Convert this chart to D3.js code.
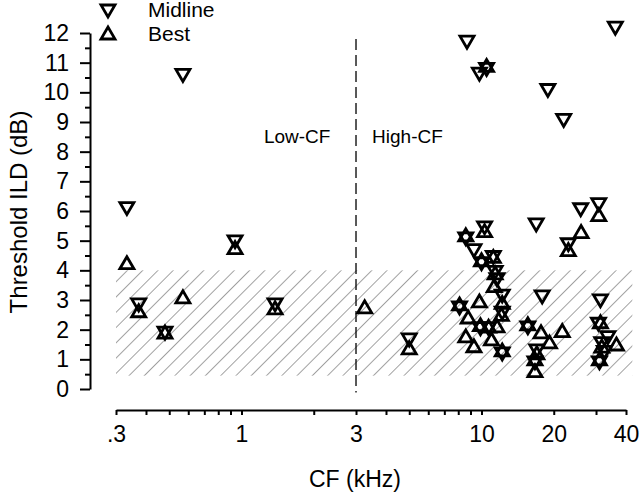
<!DOCTYPE html>
<html>
<head>
<meta charset="utf-8">
<script src="https://cdn.jsdelivr.net/npm/d3@7"></script>
<style>
  html, body { margin: 0; padding: 0; background: #fff; }
  svg { display: block; font-family: "Liberation Sans", Arial, Helvetica, sans-serif; }
</style>
</head>
<body>
<svg id="chart" width="640" height="496"></svg>
<script>
// ---- data ----
const midlineCF  = [0.333, 0.373, 0.48, 0.57, 0.94, 1.38, 5.0, 8.7, 10.5, 9.8, 18.9, 22.0, 36.1, 30.8, 25.9, 16.9, 10.3, 8.6, 23.0, 9.3, 10.0, 11.2, 11.4, 11.6, 12.2, 12.2, 8.1, 9.9, 10.7, 12.2, 17.9, 31.3, 15.6, 17.0, 16.7, 30.7, 33.6, 31.7, 32.5, 31.0];
const midlineILD = [6.15, 2.9, 1.95, 10.64, 5.03, 2.9, 1.72, 11.76, 10.84, 10.68, 10.13, 9.12, 12.23, 6.28, 6.11, 5.6, 5.5, 5.13, 4.93, 4.73, 4.29, 4.5, 4.0, 3.75, 3.2, 2.62, 2.8, 2.1, 2.1, 1.25, 3.17, 3.04, 2.13, 1.35, 0.95, 2.25, 1.8, 1.6, 1.3, 0.95];
const bestCF  = [0.333, 0.373, 0.48, 0.57, 0.94, 1.38, 3.26, 5.0, 10.5, 30.8, 26.0, 10.3, 8.6, 23.0, 10.0, 11.2, 11.4, 11.3, 12.2, 12.1, 9.8, 8.1, 8.8, 9.9, 10.7, 11.6, 8.6, 9.3, 11.0, 12.2, 15.6, 17.7, 19.2, 21.7, 17.0, 16.7, 16.7, 31.3, 36.5, 31.7, 31.0];
const bestILD = [4.19, 2.57, 1.85, 3.04, 4.7, 2.67, 2.7, 1.32, 10.84, 5.81, 5.24, 5.27, 5.13, 4.63, 4.29, 4.4, 3.85, 3.42, 2.85, 2.45, 2.9, 2.8, 2.36, 2.1, 2.05, 2.06, 1.72, 1.39, 1.62, 1.25, 2.13, 1.86, 1.52, 1.9, 1.15, 0.95, 0.55, 2.2, 1.45, 1.38, 0.95];

const xTickValues = [0.3,0.4,0.5,0.6,0.7,0.8,0.9,1,2,3,4,5,6,7,8,9,10,20,30,40];
const xTickLabels = {0.3: ".3", 1: "1", 3: "3", 10: "10", 20: "20", 40: "40"};
const yTickValues = [0,1,2,3,4,5,6,7,8,9,10,11,12];
const yMinorTicks = [0.5,1.5,2.5,3.5,4.5,5.5,6.5,7.5,8.5,9.5,10.5,11.5];
const hatchCF  = [0.3, 42.5];
const hatchILD = [0.45, 4.0];
const dividerCF = 3;
const regionLabels = [{text: "Low-CF", cf: 1.24}, {text: "High-CF", cf: 3.5}];
const legendItems = [{name: "Midline", dir: "down"}, {name: "Best", dir: "up"}];

// ---- layout ----
const svg = d3.select("#chart");
const x = d3.scaleLog().domain([0.3, 40]).range([116, 626]);
const y = d3.scaleLinear().domain([0, 12]).range([389, 33]);
const xAxisY = 410;
const yAxisX = 90;
const FONT = "Liberation Sans, Arial, Helvetica, sans-serif";

// hatch pattern
const defs = svg.append("defs");
const pat = defs.append("pattern")
  .attr("id", "hatch").attr("patternUnits", "userSpaceOnUse")
  .attr("width", 10.8).attr("height", 10)
  .attr("patternTransform", "rotate(45)");
pat.append("line").attr("x1", 0).attr("y1", -1).attr("x2", 0).attr("y2", 11)
  .attr("stroke", "#555").attr("stroke-width", 1.1);

svg.append("rect")
  .attr("x", x(hatchCF[0])).attr("y", y(hatchILD[1]))
  .attr("width", x(hatchCF[1]) - x(hatchCF[0]))
  .attr("height", y(hatchILD[0]) - y(hatchILD[1]))
  .attr("fill", "url(#hatch)");

// divider dashed line
svg.append("line")
  .attr("x1", x(dividerCF)).attr("x2", x(dividerCF))
  .attr("y1", y(11.8)).attr("y2", y(-0.12))
  .attr("stroke", "#000").attr("stroke-width", 1.3)
  .attr("stroke-dasharray", "11,5");

// region labels
svg.selectAll("text.region").data(regionLabels).enter().append("text")
  .attr("class", "region")
  .attr("x", d => x(d.cf)).attr("y", y(8.3))
  .attr("font-size", 19).attr("fill", "#000")
  .text(d => d.text);

// y axis
const yAxis = svg.append("g").attr("transform", `translate(${yAxisX},0)`)
  .call(d3.axisLeft(y).tickValues(yTickValues).tickSize(10).tickSizeOuter(0).tickPadding(11).tickFormat(d3.format("d")));
yAxis.select(".domain").attr("stroke-width", 2);
yAxis.selectAll(".tick line").attr("stroke-width", 2);
yAxis.selectAll(".tick text").attr("font-size", 23).attr("font-family", FONT).attr("fill", "#000");
const yMinor = svg.append("g").attr("transform", `translate(${yAxisX},0)`)
  .call(d3.axisLeft(y).tickValues(yMinorTicks).tickSize(5).tickSizeOuter(0).tickFormat(""));
yMinor.select(".domain").remove();
yMinor.selectAll(".tick line").attr("stroke-width", 2);

// x axis
const xAxis = svg.append("g").attr("transform", `translate(0,${xAxisY})`)
  .call(d3.axisBottom(x).tickValues(xTickValues).tickSize(5).tickSizeOuter(0).tickPadding(11)
    .tickFormat(d => xTickLabels[d] || ""));
xAxis.select(".domain").attr("stroke-width", 2);
xAxis.selectAll(".tick line").attr("stroke-width", 2);
xAxis.selectAll(".tick text").attr("font-size", 23).attr("font-family", FONT).attr("fill", "#000");

// axis titles
svg.append("text").attr("x", 355).attr("y", 487).attr("text-anchor", "middle")
  .attr("font-size", 23).text("CF (kHz)");
svg.append("text").attr("transform", "translate(27,212) rotate(-90)")
  .attr("text-anchor", "middle").attr("font-size", 24).text("Threshold ILD (dB)");

// triangle markers (centroid-centered)
function tri(dir) {
  const w = 7, h = 12;
  return dir === "down"
    ? `M${-w},${-h/3}L${w},${-h/3}L0,${2*h/3}Z`
    : `M${-w},${h/3}L${w},${h/3}L0,${-2*h/3}Z`;
}
const markerStyle = sel => sel.attr("fill", "none").attr("stroke", "#000")
  .attr("stroke-width", 2.8).attr("stroke-linejoin", "miter");

const midData = midlineCF.map((c, i) => ({cf: c, v: midlineILD[i]}));
const bestData = bestCF.map((c, i) => ({cf: c, v: bestILD[i]}));

svg.append("g").selectAll("path").data(midData).enter().append("path")
  .attr("d", tri("down"))
  .attr("transform", d => `translate(${x(d.cf)},${y(d.v)})`)
  .call(markerStyle);
svg.append("g").selectAll("path").data(bestData).enter().append("path")
  .attr("d", tri("up"))
  .attr("transform", d => `translate(${x(d.cf)},${y(d.v)})`)
  .call(markerStyle);

// legend
const leg = svg.append("g").selectAll("g").data(legendItems).enter().append("g")
  .attr("transform", (d, i) => `translate(108,${10 + i * 24})`);
leg.append("path").attr("d", d => tri(d.dir)).call(markerStyle)
  .attr("transform", d => d.dir === "down" ? "translate(0,-1)" : "translate(0,1)");
leg.append("text").attr("x", 40).attr("y", 7).attr("font-size", 21).text(d => d.name);
</script>
</body>
</html>
